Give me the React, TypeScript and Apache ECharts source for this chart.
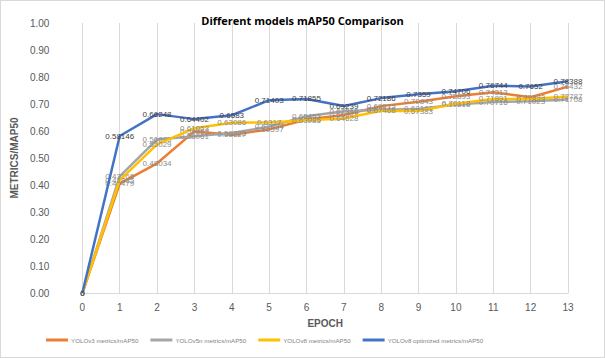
import React, { useEffect, useRef } from "react";
import * as echarts from "echarts";

const epochs = ["0", "1", "2", "3", "4", "5", "6", "7", "8", "9", "10", "11", "12", "13"];
const yoloV3 = [0, 0.40479, 0.48034, 0.59853, 0.58627, 0.60597, 0.64231, 0.65948, 0.69215, 0.70843, 0.72893, 0.74313, 0.72523, 0.76432];
const yoloV5n = [0, 0.43166, 0.56893, 0.58061, 0.59223, 0.61624, 0.65453, 0.67316, 0.67846, 0.68161, 0.69816, 0.70716, 0.71023, 0.71708];
const yoloV8 = [0, 0.41835, 0.55029, 0.61053, 0.63086, 0.6317, 0.63985, 0.64628, 0.67468, 0.67383, 0.70118, 0.71891, 0.71823, 0.72787];
const yoloV8opt = [0, 0.58146, 0.66248, 0.64402, 0.6583, 0.71403, 0.71855, 0.69239, 0.72186, 0.7359, 0.74706, 0.76744, 0.7652, 0.78388];
const seriesNames = [
  "YOLOv3 metrics/mAP50",
  "YOLOv5n metrics/mAP50",
  "YOLOv8 metrics/mAP50",
  "YOLOv8 optimized metrics/mAP50",
];

export default function App() {
  const ref = useRef<HTMLDivElement>(null);
  useEffect(() => {
    document.body.style.margin = "0";
    if (!ref.current) return;
    const chart = echarts.init(ref.current, undefined, { renderer: "svg" });
    const font = "Liberation Sans, Arial, sans-serif";
    const mk = (name: string, data: number[], color: string, labelColor: string, z: number) => ({
      name,
      type: "line",
      data,
      z,
      symbol: "circle",
      symbolSize: 0,
      showSymbol: true,
      lineStyle: { color, width: 2.5 },
      itemStyle: { color },
      label: {
        show: true,
        position: "inside",
        color: labelColor,
        fontSize: 8,
        fontFamily: font,
      },
    });
    chart.setOption({
      animation: false,
      backgroundColor: "#ffffff",
      title: {
        text: "Different models mAP50 Comparison",
        left: "center",
        top: 9,
        textStyle: { fontSize: 11, fontWeight: "bold", color: "#000000", fontFamily: "Open Sans, sans-serif" },
      },
      grid: { left: 80, right: 36, top: 22, bottom: 64 },
      legend: {
        bottom: 9,
        left: 40,
        itemWidth: 22,
        itemHeight: 3,
        itemGap: 12,
        icon: "rect",
        textStyle: { fontSize: 6.2, color: "#7f7f7f", fontFamily: font, padding: [0, 0, 0, -2] },
        data: seriesNames,
      },
      xAxis: {
        type: "category",
        data: epochs,
        boundaryGap: false,
        name: "EPOCH",
        nameLocation: "middle",
        nameGap: 25,
        nameTextStyle: { fontSize: 10, color: "#595959", fontWeight: "bold", fontFamily: font },
        axisLine: { lineStyle: { color: "#d9d9d9" } },
        axisTick: { show: false },
        axisLabel: { color: "#595959", fontSize: 10, margin: 9, fontFamily: font },
        splitLine: { show: true, lineStyle: { color: "#d9d9d9" } },
      },
      yAxis: {
        type: "value",
        min: 0,
        max: 1,
        interval: 0.1,
        name: "METRICS/MAP50",
        nameLocation: "middle",
        nameGap: 60,
        nameTextStyle: { fontSize: 10, color: "#595959", fontWeight: "bold", fontFamily: font },
        axisLine: { show: false },
        axisTick: { show: false },
        axisLabel: { color: "#595959", fontSize: 10, margin: 33, fontFamily: font, formatter: (v: number) => v.toFixed(2) },
        splitLine: { show: false },
      },
      series: [
        mk(seriesNames[0], yoloV3, "#ED7D31", "#8c8c8c", 2),
        mk(seriesNames[1], yoloV5n, "#A5A5A5", "#8c8c8c", 3),
        mk(seriesNames[2], yoloV8, "#FFC000", "#8c8c8c", 4),
        mk(seriesNames[3], yoloV8opt, "#4472C4", "#404040", 5),
      ],
    });
    return () => chart.dispose();
  }, []);
  return (
    <div
      ref={ref}
      style={{ width: 605, height: 358, boxSizing: "border-box", border: "1px solid #d9d9d9" }}
    />
  );
}
